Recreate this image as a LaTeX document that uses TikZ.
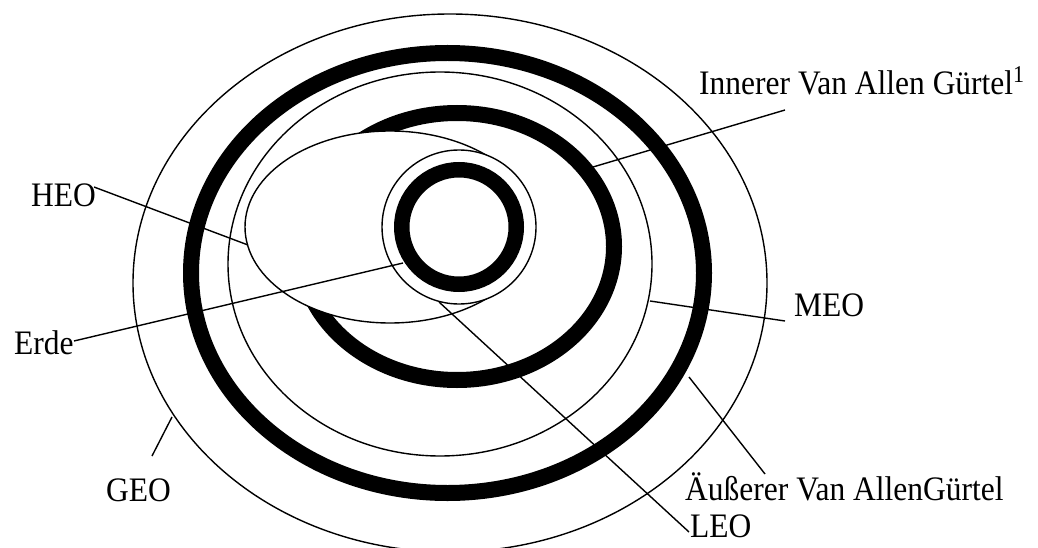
\documentclass[tikz,border=0pt]{standalone}
\usepackage{fontspec}
\setmainfont{Liberation Serif}
\newcommand{\tallx}[1]{\scalebox{1}[1.09]{#1}}
\begin{document}
\begin{tikzpicture}[x=1pt,y=-1pt,
  orbit/.style={line width=1.4pt},
  belt/.style={line width=16pt},
  lbl/.style={anchor=base west, inner sep=0pt, font=\fontsize{31.5}{36}\selectfont},
  leader/.style={line width=1.4pt}]
\useasboundingbox (0,0) rectangle (1038,548);
\clip (0,0) rectangle (1038,548);
% orbits and belts
\draw[orbit] (450,283) ellipse [x radius=317pt, y radius=269pt];
\draw[belt] (447.5,273) ellipse [x radius=256.5pt, y radius=220pt];
\draw[orbit] (440,264) ellipse [x radius=212pt, y radius=192pt];
\draw[belt] (457,246.5) ellipse [x radius=157pt, y radius=133.5pt];
\draw[orbit, fill=white] (390,227) ellipse [x radius=145pt, y radius=96pt];
\draw[orbit, fill=white] (459,227) circle [radius=77pt];
\draw[line width=15.5pt] (459,227) circle [radius=57.25pt];
% labels
\node[lbl] (innerer) at (699,95) {\tallx{Innerer Van Allen Gürtel\raisebox{2pt}{\textsuperscript{1}}}};
\node[lbl] (heo) at (31,206) {\tallx{HEO}};
\node[lbl] (erde) at (14,354) {\tallx{Erde}};
\node[lbl] (geo) at (106,501) {\tallx{GEO}};
\node[lbl] (meo) at (794,316) {\tallx{MEO}};
\node[lbl] (aeusserer) at (685,500) {\tallx{Äußerer Van AllenGürtel}};
\node[lbl] (leo) at (690,537) {\tallx{LEO}};
% leader end points
\coordinate (heoA) at (94,187);   \coordinate (heoB) at (248,245);
\coordinate (erdeA) at (74,341);  \coordinate (erdeB) at (403,263);
\coordinate (geoA) at (152,456);  \coordinate (geoB) at (172,417);
\coordinate (meoA) at (785,321);  \coordinate (meoB) at (650,301);
\coordinate (innA) at (785,110);  \coordinate (innB) at (593,167);
\coordinate (ausA) at (765,474);  \coordinate (ausB) at (689,377);
\coordinate (leoA) at (689,532);  \coordinate (leoB) at (439,302);
% leaders
\draw[leader] (heoA) -- (heoB);
\draw[leader] (erdeA) -- (erdeB);
\draw[leader] (geoA) -- (geoB);
\draw[leader] (meoA) -- (meoB);
\draw[leader] (innA) -- (innB);
\draw[leader] (ausA) -- (ausB);
\draw[leader] (leoA) -- (leoB);
\end{tikzpicture}
\end{document}
